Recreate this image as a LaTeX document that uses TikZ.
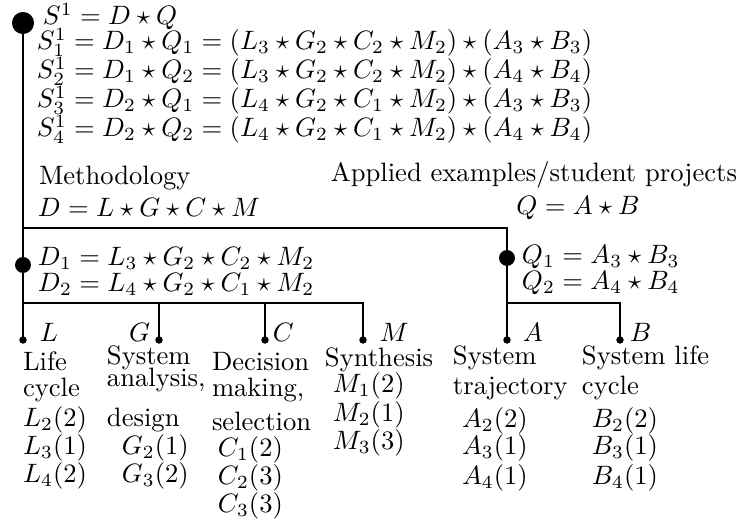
\documentclass[tikz,border=0pt]{standalone}
\begin{document}
\begin{tikzpicture}[x=0.376pt,y=-0.376pt,
  txt/.style={anchor=base west, inner sep=0pt, outer sep=0pt},
  txte/.style={anchor=base east, inner sep=0pt, outer sep=0pt},
  txtc/.style={anchor=base, inner sep=0pt, outer sep=0pt},
  bigdot/.style={circle, fill=black, inner sep=0pt, minimum size=8.3pt},
  middot/.style={circle, fill=black, inner sep=0pt, minimum size=6pt},
  smalldot/.style={circle, fill=black, inner sep=0pt, minimum size=2.8pt},
  conn/.style={line width=0.75pt}]
\useasboundingbox (0,0) rectangle (740,524);
% dots
\node[bigdot] (s) at (23,23) {};
\node[middot] (dD) at (23,265) {};
\node[middot] (dQ) at (507,258) {};
\node[smalldot] (dL) at (23,340) {};
\node[smalldot] (dG) at (159,340) {};
\node[smalldot] (dC) at (265,340) {};
\node[smalldot] (dM) at (363,340) {};
\node[smalldot] (dA) at (507,340) {};
\node[smalldot] (dB) at (620,340) {};
\coordinate (j1) at (23,228);
\coordinate (j2) at (507,228);
\coordinate (j3) at (23,303);
\coordinate (j4) at (507,303);
% connectors
\draw[conn] (s.center) -- (dL.center);
\draw[conn] (j1) -- (j2) -- (dA.center);
\draw[conn] (j3) -| (dG.center);
\draw[conn] (j3) -| (dC.center);
\draw[conn] (j3) -| (dM.center);
\draw[conn] (j4) -| (dB.center);
% top formulas
\node[txt] (t0) at (43,25) {$S^1=D\star Q$};
\node[txt] (t1) at (37,50) {$S^1_1=D_1\star Q_1=(L_3\star G_2\star C_2\star M_2)\star(A_3\star B_3)$};
\node[txt] (t2) at (37,79) {$S^1_2=D_1\star Q_2=(L_3\star G_2\star C_2\star M_2)\star(A_4\star B_4)$};
\node[txt] (t3) at (37,108) {$S^1_3=D_2\star Q_1=(L_4\star G_2\star C_1\star M_2)\star(A_3\star B_3)$};
\node[txt] (t4) at (37,137) {$S^1_4=D_2\star Q_2=(L_4\star G_2\star C_1\star M_2)\star(A_4\star B_4)$};
% methodology
\node[txt] (meth) at (39,185) {Methodology};
\node[txt] (dform) at (38,217) {$D=L\star G\star C\star M$};
\node[txte] (appl) at (737,182) {Applied examples/student projects};
\node[txtc] (qform) at (578,215) {$Q=A\star B$};
\node[txt] (d1) at (38,266) {$D_1=L_3\star G_2\star C_2\star M_2$};
\node[txt] (d2) at (38,292) {$D_2=L_4\star G_2\star C_1\star M_2$};
\node[txt] (q1) at (522,264) {$Q_1=A_3\star B_3$};
\node[txt] (q2) at (522,290) {$Q_2=A_4\star B_4$};
% leaf labels
\node[txt] (lL) at (40,342) {$L$};
\node[txte] (lG) at (150,342) {$G$};
\node[txt] (lC) at (273,342) {$C$};
\node[txt] (lM) at (380,342) {$M$};
\node[txt] (lA) at (523,342) {$A$};
\node[txt] (lB) at (630,342) {$B$};
% L column
\node[txt] (L1) at (23,371) {Life};
\node[txt] (L2) at (23,397) {cycle};
\node[txt] (L3) at (23,427) {$L_2(2)$};
\node[txt] (L4) at (23,455) {$L_3(1)$};
\node[txt] (L5) at (23,483) {$L_4(2)$};
% G column
\node[txt] (G1) at (107,365) {System};
\node[txt] (G2) at (107,387) {analysis,};
\node[txt] (G3) at (107,427) {design};
\node[txt] (G4) at (122,455) {$G_2(1)$};
\node[txt] (G5) at (122,483) {$G_3(2)$};
% C column
\node[txt] (C1) at (212,371) {Decision};
\node[txt] (C2) at (212,397) {making,};
\node[txt] (C3) at (212,431) {selection};
\node[txt] (C4) at (218,457) {$C_1(2)$};
\node[txt] (C5) at (218,485) {$C_2(3)$};
\node[txt] (C6) at (218,513) {$C_3(3)$};
% M column
\node[txt] (M1) at (325,367) {Synthesis};
\node[txt] (M2) at (333,393) {$M_1(2)$};
\node[txt] (M3) at (333,422) {$M_2(1)$};
\node[txt] (M4) at (333,450) {$M_3(3)$};
% A column
\node[txt] (A1) at (453,365) {System};
\node[txt] (A2) at (453,395) {trajectory};
\node[txt] (A3) at (462,428) {$A_2(2)$};
\node[txt] (A4) at (462,455) {$A_3(1)$};
\node[txt] (A5) at (462,485) {$A_4(1)$};
% B column
\node[txt] (B1) at (582,365) {System life};
\node[txt] (B2) at (582,395) {cycle};
\node[txt] (B3) at (592,428) {$B_2(2)$};
\node[txt] (B4) at (592,455) {$B_3(1)$};
\node[txt] (B5) at (592,485) {$B_4(1)$};
\end{tikzpicture}
\end{document}
